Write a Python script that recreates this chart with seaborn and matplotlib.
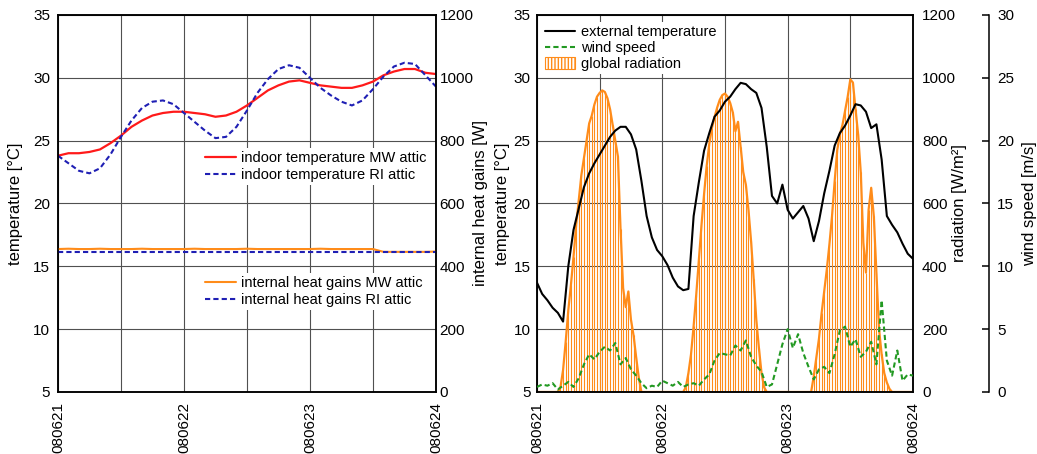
import numpy as np
import seaborn as sns
import matplotlib.pyplot as plt
from matplotlib.lines import Line2D
from matplotlib.patches import Patch
from matplotlib.ticker import MultipleLocator

sns.set_theme(style="white", rc={
    "axes.edgecolor": "black", "text.color": "black", "axes.labelcolor": "black",
    "xtick.color": "black", "ytick.color": "black", "axes.linewidth": 1.1,
})
plt.rcParams['font.family'] = ['Liberation Sans', 'DejaVu Sans']
plt.rcParams['font.size'] = 10.5
plt.rcParams['hatch.linewidth'] = 1.0

day_ticks = [0, 24, 48, 72]
day_labels = ["080621", "080622", "080623", "080624"]

# ---- left panel: attic temperatures and internal gains (2-hourly) ----
hours_2h = np.arange(0, 73, 2)
indoor_mw = [23.8, 24.0, 24.0, 24.1, 24.3, 24.8, 25.4, 26.1, 26.6, 27.0,
             27.2, 27.3, 27.3, 27.2, 27.1, 26.9, 27.0, 27.3, 27.8, 28.4,
             29.0, 29.4, 29.7, 29.8, 29.6, 29.4, 29.3, 29.2, 29.2, 29.4,
             29.7, 30.2, 30.5, 30.7, 30.7, 30.4, 30.3]
indoor_ri = [23.8, 23.2, 22.6, 22.4, 22.8, 23.9, 25.3, 26.6, 27.6, 28.1,
             28.2, 27.9, 27.2, 26.5, 25.8, 25.2, 25.3, 26.1, 27.4, 28.8,
             29.9, 30.7, 31.0, 30.8, 30.0, 29.2, 28.6, 28.1, 27.8, 28.2,
             29.1, 30.1, 30.9, 31.2, 31.1, 30.2, 29.3]
gains_mw = [455, 456, 455, 455, 456, 455, 455, 455, 456, 455,
            455, 455, 455, 456, 455, 455, 455, 455, 456, 455,
            455, 455, 455, 455, 455, 456, 455, 455, 455, 455,
            455, 446, 446, 446, 446, 446, 447]
gains_ri = [445, 445, 445, 445, 445, 445, 445, 445, 445, 445,
            445, 445, 445, 445, 445, 445, 445, 445, 445, 445,
            445, 445, 445, 445, 445, 445, 445, 445, 445, 445,
            445, 445, 445, 445, 445, 445, 445]

# ---- right panel: weather (hourly temperature / wind, half-hourly radiation) ----
hours_1h = np.arange(0, 73)
ext_temp = [13.7, 12.8, 12.3, 11.7, 11.3, 10.6, 15.0, 17.9, 19.6, 21.3,
            22.4, 23.2, 23.9, 24.6, 25.3, 25.8, 26.1, 26.1, 25.5, 24.3,
            21.8, 19.0, 17.3, 16.3, 15.8, 15.1, 14.1, 13.4, 13.1, 13.2,
            19.0, 21.7, 24.2, 25.6, 26.9, 27.4, 28.1, 28.5, 29.1, 29.6,
            29.5, 29.1, 28.8, 27.6, 24.5, 20.6, 20.0, 21.5, 19.5, 18.8,
            19.3, 19.8, 18.8, 17.0, 18.6, 20.8, 22.6, 24.6, 25.6, 26.2,
            27.0, 27.9, 27.8, 27.3, 26.0, 26.3, 23.5, 19.0, 18.3, 17.7,
            16.8, 16.0, 15.6]
wind = [0.4, 0.6, 0.5, 0.7, 0.2, 0.5, 0.8, 0.4, 1.1, 2.2,
        3.0, 2.6, 3.2, 3.6, 3.3, 3.9, 2.2, 2.7, 1.8, 1.3,
        0.7, 0.3, 0.5, 0.4, 0.9, 0.7, 0.5, 0.8, 0.4, 0.6,
        0.7, 0.5, 1.0, 1.4, 2.5, 3.1, 3.0, 2.9, 3.7, 3.3,
        4.1, 2.8, 2.1, 1.6, 0.4, 0.6, 2.2, 3.8, 5.0, 3.5,
        4.6, 3.1, 2.0, 1.0, 1.8, 2.0, 1.5, 3.0, 4.9, 5.2,
        3.6, 4.2, 2.8, 3.2, 4.0, 2.2, 7.3, 2.5, 1.3, 3.3,
        0.9, 1.4, 1.3]
hours_30m = np.arange(0, 72.5, 0.5)
radiation = [0, 0, 0, 0, 0, 0, 0, 0, 0,
             15, 70, 160, 260, 340, 430, 530, 610, 690, 745,
             800, 855, 880, 915, 940, 952, 960, 955, 935, 900,
             850, 800, 750, 520, 330, 270, 320, 230, 180, 110,
             45, 0,
             0, 0, 0, 0, 0, 0, 0, 0, 0, 0, 0, 0, 0, 0, 0, 0,
             15, 60, 120, 210, 310, 420, 530, 630, 720, 790,
             840, 875, 905, 930, 945, 950, 940, 920, 890, 830,
             860, 780, 700, 660, 580, 480, 360, 230, 140, 60,
             15, 0,
             0, 0, 0, 0, 0, 0, 0, 0, 0, 0, 0, 0, 0, 0, 0, 0, 0,
             50, 110, 170, 250, 320, 390, 470, 560, 670, 770,
             820, 850, 895, 940, 995, 985, 900, 820, 700, 475,
             380, 580, 650, 560, 380, 200, 120, 60, 30, 10,
             0,
             0, 0, 0, 0, 0, 0, 0, 0]

RED, BLUE, ORANGE, GREEN = "#ff1a1a", "#1f1fb4", "#ff8c1a", "#229922"
GRID = dict(color="#505050", linewidth=0.8)
DASH = (0, (2.5, 1.5))

fig = plt.figure(figsize=(10.37, 4.54), dpi=100)


def style_time_axis(ax):
    ax.set_xlim(0, 72)
    ax.set_xticks(day_ticks)
    ax.set_xticklabels(day_labels, rotation=90)
    ax.xaxis.set_minor_locator(MultipleLocator(12))
    ax.tick_params(axis="x", which="both", length=0, pad=7)
    ax.grid(True, axis="x", which="both", **GRID)
    ax.grid(True, axis="y", which="major", **GRID)
    ax.set_axisbelow(True)


# ---------------- left panel ----------------
ax1 = fig.add_axes([0.0559, 0.1366, 0.3645, 0.8304])
ax1b = ax1.twinx()
style_time_axis(ax1)

sns.lineplot(x=hours_2h, y=indoor_mw, ax=ax1, color=RED, lw=1.6, legend=False)
sns.lineplot(x=hours_2h, y=indoor_ri, ax=ax1, color=BLUE, lw=1.5,
             linestyle=DASH, legend=False)
sns.lineplot(x=hours_2h, y=gains_mw, ax=ax1b, color=ORANGE, lw=1.5, legend=False)
sns.lineplot(x=hours_2h, y=gains_ri, ax=ax1b, color=BLUE, lw=1.5,
             linestyle=DASH, legend=False)

ax1.set_ylim(5, 35)
ax1.set_yticks(range(5, 36, 5))
ax1b.set_ylim(0, 1200)
ax1b.set_yticks(range(0, 1201, 200))
ax1.tick_params(axis="y", length=0, pad=5.5)
ax1b.tick_params(axis="y", length=0, pad=2.5)
ax1.set_ylabel("temperature [°C]")
ax1.yaxis.set_label_coords(-0.093, 0.5)
ax1b.set_ylabel("internal heat gains [W]")
ax1b.yaxis.set_label_coords(1.097, 0.5)

leg_kw = dict(frameon=True, framealpha=1, edgecolor="none", fancybox=False,
              fontsize=10.5, handlelength=2.1, handletextpad=0.4,
              labelspacing=0.2, borderpad=0.2, borderaxespad=0)
h_top = [Line2D([], [], color=RED, lw=1.6),
         Line2D([], [], color=BLUE, lw=1.5, linestyle=DASH)]
leg1 = ax1b.legend(h_top, ["indoor temperature MW attic", "indoor temperature RI attic"],
                   loc="center left", bbox_to_anchor=(0.381, 0.598), **leg_kw)
ax1b.add_artist(leg1)
h_bot = [Line2D([], [], color=ORANGE, lw=1.5),
         Line2D([], [], color=BLUE, lw=1.5, linestyle=DASH)]
ax1b.legend(h_bot, ["internal heat gains MW attic", "internal heat gains RI attic"],
            loc="center left", bbox_to_anchor=(0.381, 0.266), **leg_kw)

# ---------------- right panel ----------------
ax2r = fig.add_axes([0.5178, 0.1366, 0.3626, 0.8304])   # radiation (host, below)
style_time_axis(ax2r)
ax2 = ax2r.twinx()                                       # temperature
ax2w = ax2r.twinx()                                      # wind speed
# twinx puts the host's ticks on the left: swap them back
ax2r.yaxis.tick_right()
ax2r.yaxis.set_label_position("right")
ax2.yaxis.tick_left()
ax2.yaxis.set_label_position("left")
ax2w.spines["right"].set_position(("axes", 1.202))
for s in ["left", "top", "bottom"]:
    ax2w.spines[s].set_visible(False)

ax2r.vlines(hours_30m, 0, radiation, colors=ORANGE, lw=0.8)
sns.lineplot(x=hours_30m, y=radiation, ax=ax2r, color=ORANGE, lw=1.6, legend=False)
sns.lineplot(x=hours_1h, y=ext_temp, ax=ax2, color="black", lw=1.5, legend=False)
sns.lineplot(x=hours_1h, y=wind, ax=ax2w, color=GREEN, lw=1.5,
             linestyle=DASH, legend=False)

ax2r.set_ylim(0, 1200)
ax2r.set_yticks(range(0, 1201, 200))
ax2.set_ylim(5, 35)
ax2.set_yticks(range(5, 36, 5))
ax2w.set_ylim(0, 30)
ax2w.set_yticks(range(0, 31, 5))
ax2r.tick_params(axis="y", length=0, pad=6.5)
ax2.tick_params(axis="y", length=0, pad=4.5)
ax2w.tick_params(axis="y", direction="in", length=5, width=1.1, pad=5.8)

ax2.set_ylabel("temperature [°C]")
ax2.yaxis.set_label_coords(-0.072, 0.5)
ax2r.set_ylabel("radiation [W/m²]")
ax2r.yaxis.set_label_coords(1.104, 0.5)
ax2w.set_ylabel("wind speed [m/s]")
ax2w.yaxis.set_label_coords(1.290, 0.5)

h_right = [Line2D([], [], color="black", lw=1.5),
           Line2D([], [], color=GREEN, lw=1.5, linestyle=DASH),
           Patch(facecolor="white", edgecolor=ORANGE, hatch="|||||", lw=0.8)]
leg_kw_r = dict(leg_kw, labelspacing=0.12, handleheight=0.9)
ax2w.legend(h_right, ["external temperature", "wind speed", "global radiation"],
            loc="center left", bbox_to_anchor=(0.013, 0.912), **leg_kw_r)

fig.savefig("out.png", dpi=100)
